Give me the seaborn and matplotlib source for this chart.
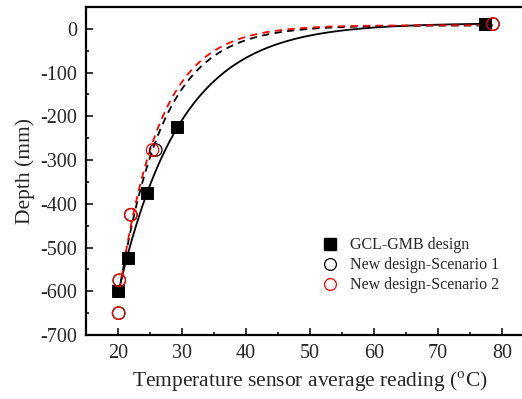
import numpy as np
import pandas as pd
import seaborn as sns
import matplotlib.pyplot as plt
from matplotlib.lines import Line2D

# values
gcl_temp = [20.0, 21.5, 24.5, 29.2, 77.3]
gcl_depth = [-600, -525, -376, -225, 11]

s1_temp = [20.1, 20.2, 22.0, 25.9, 78.6]
s1_depth = [-650, -575, -425, -277, 11]

s2_temp = [20.1, 20.2, 22.0, 25.4, 78.6]
s2_depth = [-650, -575, -425, -277, 11]

x_ticks = [20, 30, 40, 50, 60, 70, 80]
y_ticks = [0, -100, -200, -300, -400, -500, -600, -700]


def exp_fit(x, y):
    # y = A + B*exp(c*x), c by grid search, A/B by least squares
    x = np.asarray(x, float)
    y = np.asarray(y, float)
    best = None
    for c in np.linspace(-0.5, -0.02, 2000):
        M = np.column_stack([np.ones_like(x), np.exp(c * x)])
        coef, res, _, _ = np.linalg.lstsq(M, y, rcond=None)
        err = np.sum((M @ coef - y) ** 2)
        if best is None or err < best[0]:
            best = (err, c, coef)
    _, c, coef = best
    xs = np.linspace(x.min(), x.max(), 300)
    return xs, coef[0] + coef[1] * np.exp(c * xs)


sns.set_style('ticks')
plt.rcParams['font.family'] = ['Liberation Serif', 'DejaVu Serif']
plt.rcParams['mathtext.fontset'] = 'custom'
plt.rcParams['mathtext.rm'] = 'Liberation Serif'
plt.rcParams['axes.unicode_minus'] = False

fig = plt.figure(figsize=(5.22, 3.99), dpi=100)
ax = fig.add_axes([0.1648, 0.1604, 0.858, 0.822])

fx, fy = exp_fit(gcl_temp, gcl_depth)
sns.lineplot(x=fx, y=fy, ax=ax, color='black', lw=1.3, sort=False)
fx, fy = exp_fit(s1_temp, s1_depth)
sns.lineplot(x=fx, y=fy, ax=ax, color='black', lw=1.3, ls=(0, (4, 3)), sort=False)
fx, fy = exp_fit(s2_temp, s2_depth)
sns.lineplot(x=fx, y=fy, ax=ax, color='red', lw=1.3, ls=(3.5, (4, 3)), sort=False)

sns.scatterplot(x=gcl_temp, y=gcl_depth, ax=ax, marker='s', s=70,
                color='black', edgecolor='black', zorder=5)
sns.scatterplot(x=s1_temp, y=s1_depth, ax=ax, marker='o', s=80,
                facecolor='none', edgecolor='black', linewidth=0.9, zorder=5)
sns.scatterplot(x=s2_temp, y=s2_depth, ax=ax, marker='o', s=80,
                facecolor='none', edgecolor='red', linewidth=0.9, zorder=6)

ax.set_xlim(15, 85)
ax.set_ylim(-700, 50)
ax.set_xticks(x_ticks)
ax.set_yticks(y_ticks)
ax.set_xticks([25, 35, 45, 55, 65, 75], minor=True)
ax.set_yticks(np.arange(-650, 0, 100), minor=True)
ax.tick_params(which='both', direction='in', labelsize=14.5, width=1.3, pad=6.5)
ax.tick_params(which='major', length=5)
ax.tick_params(which='minor', length=2.5)
for sp in ax.spines.values():
    sp.set_linewidth(1.6)
    sp.set_color('black')

ax.set_xlabel(r'Temperature sensor average reading ($^{\rm o}$C)', fontsize=15.5, labelpad=5)
ax.set_ylabel('Depth (mm)', fontsize=15.5, labelpad=4)

handles = [
    Line2D([], [], ls='none', marker='s', ms=8, color='black'),
    Line2D([], [], ls='none', marker='o', ms=8.5, mfc='none', mec='black', mew=0.9),
    Line2D([], [], ls='none', marker='o', ms=8.5, mfc='none', mec='red', mew=0.9),
]
labels = ['GCL-GMB design', 'New design-Scenario 1', 'New design-Scenario 2']
ax.legend(handles, labels, loc='lower left', bbox_to_anchor=(0.492, 0.083),
          frameon=False, fontsize=11.5, handletextpad=0.6, labelspacing=0.25,
          handlelength=1.2)

fig.savefig('out.png', dpi=100)
